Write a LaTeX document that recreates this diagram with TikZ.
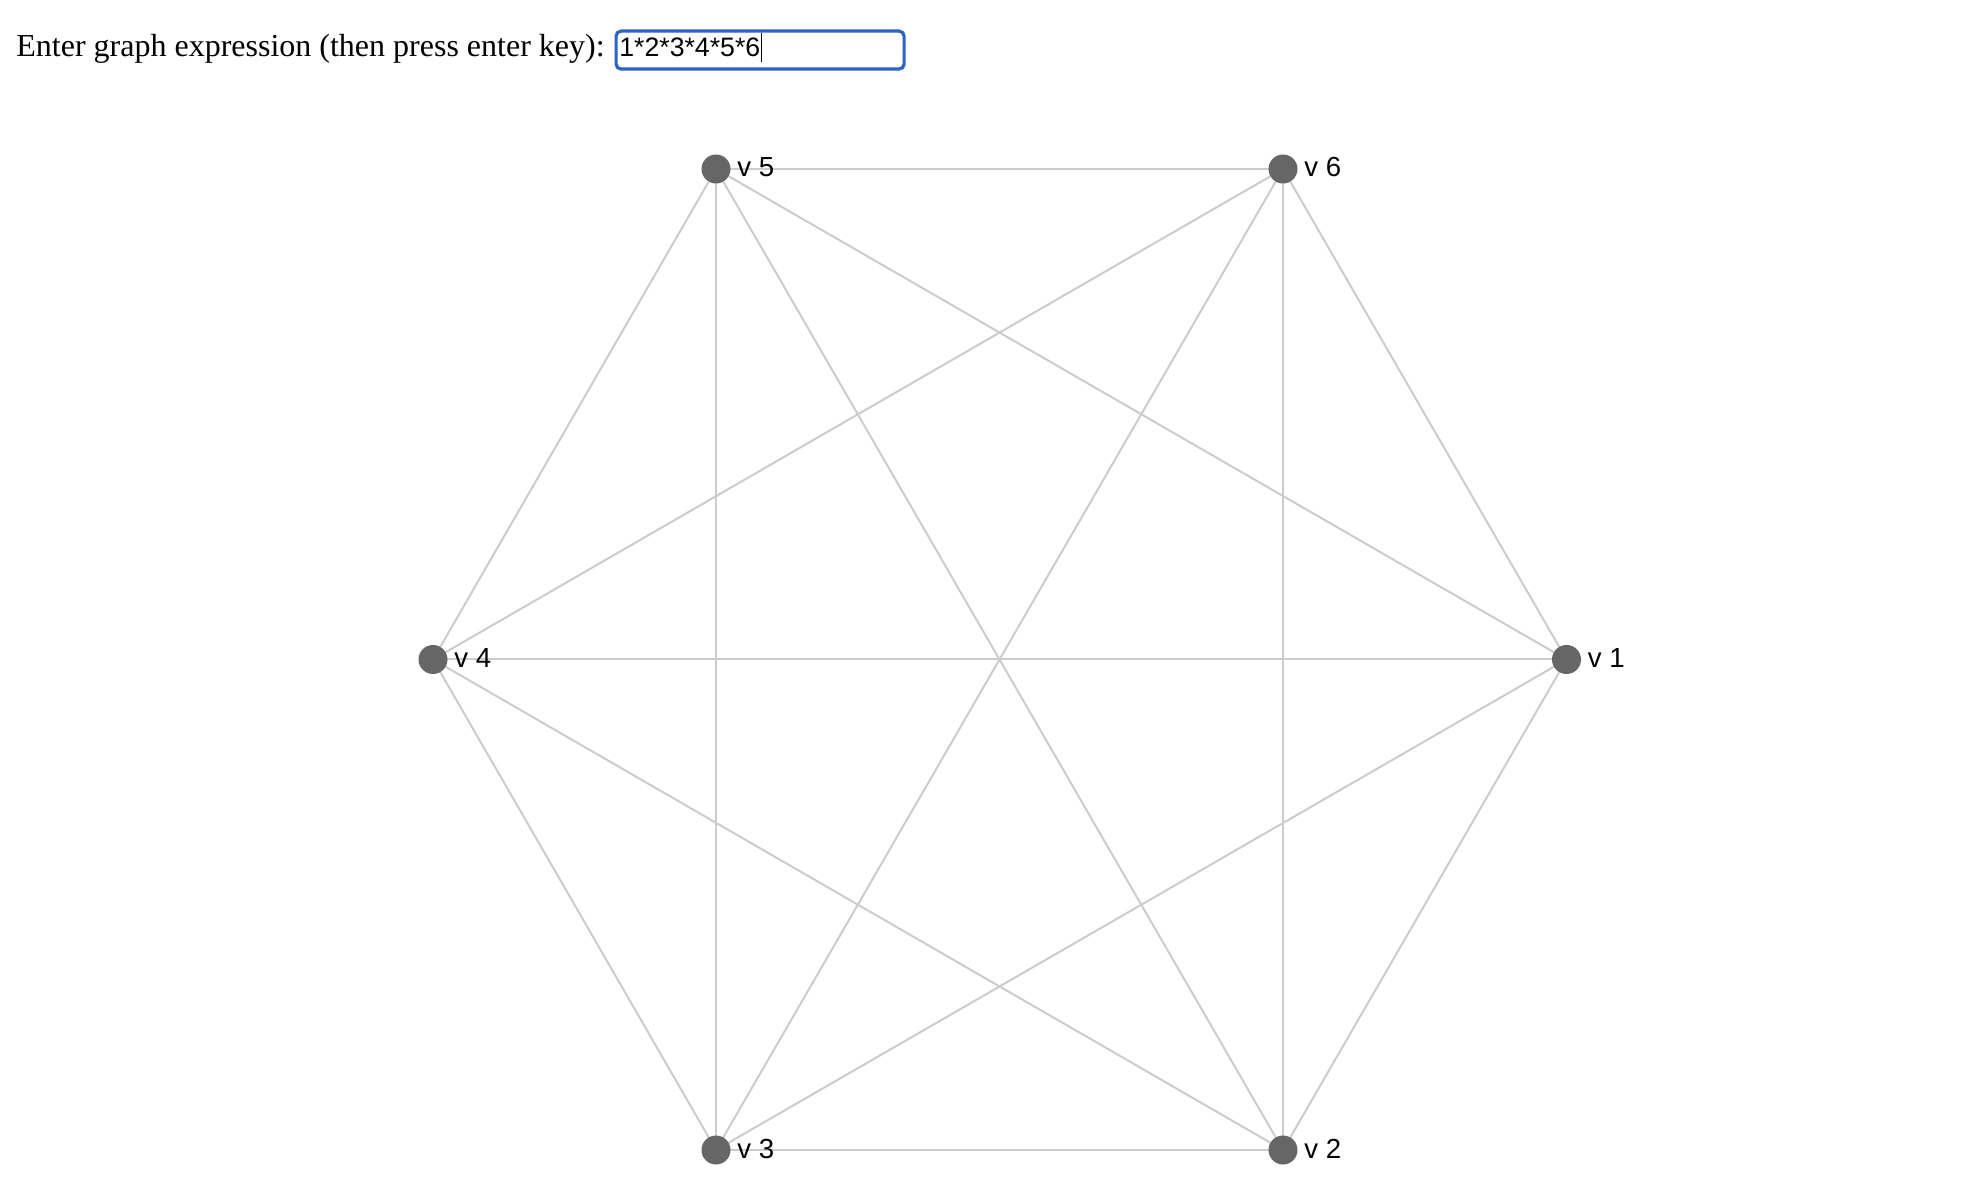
\documentclass[tikz,border=0pt]{standalone}
\usepackage{fontspec}
\setmainfont{Liberation Serif}
\newfontfamily\arialfont{Liberation Sans}
\definecolor{edgegray}{HTML}{CCCCCC}
\definecolor{vertexgray}{HTML}{666666}
\definecolor{focusblue}{HTML}{2B63C9}
\begin{document}
\begin{tikzpicture}[x=0.5pt,y=-0.5pt,
  vertex/.style={circle,fill=vertexgray,minimum size=14.5pt,inner sep=0pt},
  vlabel/.style={anchor=base west,inner sep=0pt,font=\arialfont\fontsize{13.8}{16}\selectfont},
  edge/.style={draw=edgegray,line width=1pt}]
\useasboundingbox[fill=white] (0,0) rectangle (1976,1186);
% prompt
\node[anchor=base west,inner sep=0pt,font=\fontsize{16}{19}\selectfont] (prompt) at (16,57) {Enter graph expression (then press enter key):};
\node[draw=focusblue,line width=1.6pt,rounded corners=2.5pt,minimum width=144pt,minimum height=19pt,inner sep=0pt,anchor=north west] (box) at (614.5,29.5) {};
\node[anchor=base west,inner sep=0pt,font=\arialfont\fontsize{13.33}{16}\selectfont] (expr) at (619,57) {1*2*3*4*5*6};
\coordinate (curtop) at (761,33);
\coordinate (curbot) at (761,62);
\draw[line width=0.5pt] (curtop) -- (curbot);
% vertices positions
\coordinate (p1) at (1566.5,659.5);
\coordinate (p2) at (1283,1150);
\coordinate (p3) at (716,1150);
\coordinate (p4) at (433,659.5);
\coordinate (p5) at (716,169);
\coordinate (p6) at (1283,169);
% edges
\foreach \a/\b in {1/2,1/3,1/4,1/5,1/6,2/3,2/4,2/5,2/6,3/4,3/5,3/6,4/5,4/6,5/6}
  \draw[edge] (p\a) -- (p\b);
% vertices and labels
\foreach \i in {1,...,6} {
  \node[vertex] (v\i) at (p\i) {};
  \node[vlabel] (l\i) at ([xshift=10.5pt,yshift=-4pt]p\i) {v \i};
}
\end{tikzpicture}
\end{document}
